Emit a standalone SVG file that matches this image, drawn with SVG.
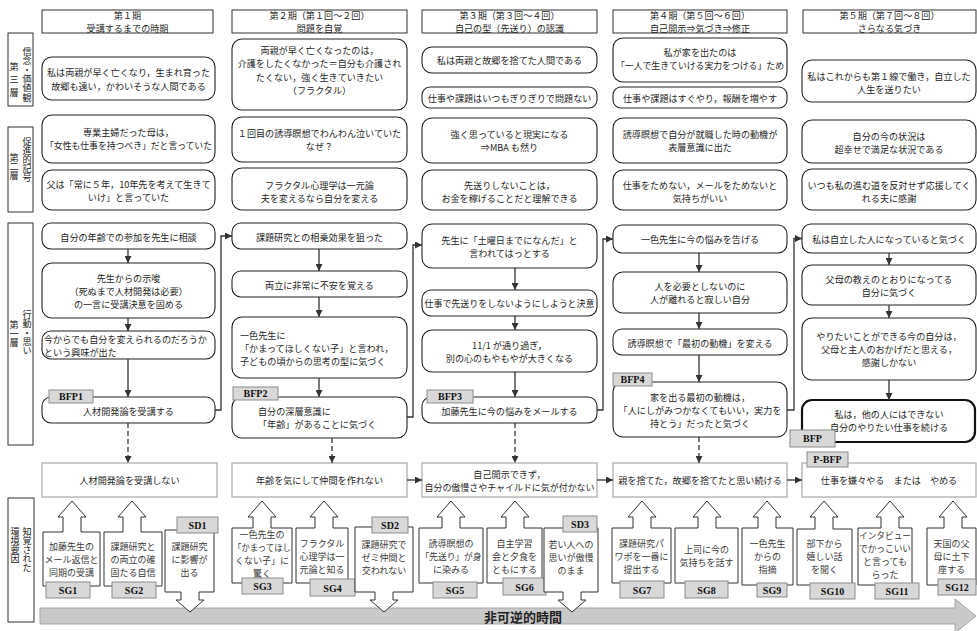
<svg xmlns="http://www.w3.org/2000/svg" width="977" height="631" viewBox="0 0 977 631">
<defs>
<style>
.b{fill:#fff;stroke:#222;stroke-width:1.1}
.bt{fill:#fff;stroke:#111;stroke-width:2.2}
.h{fill:#fff;stroke:#333;stroke-width:1}
.r{fill:#fff;stroke:#a8a8a8;stroke-width:1.2}
.g{fill:#d8d8d8;stroke:#8c8c8c;stroke-width:1}
.c{fill:#fff;stroke:#333;stroke-width:1}
.t{font-family:"Noto Sans CJK JP","Noto Sans",sans-serif;font-size:9.1px;fill:#262626;text-anchor:middle;dominant-baseline:central}
.l{text-anchor:start}
.s{font-size:9px;fill:#3a3a3a}
.v{font-family:"Noto Sans CJK JP",sans-serif;font-size:9.1px;fill:#222;writing-mode:vertical-rl}
.k{font-family:"Liberation Serif",serif;font-weight:bold;font-size:10px;fill:#111;text-anchor:middle;dominant-baseline:central}
.ln{fill:none;stroke:#333;stroke-width:1.3;marker-end:url(#ah)}
.d{stroke-dasharray:5 3}
.bar{fill:#c9c9c9;stroke:#a5a5a5;stroke-width:1}
.bartxt{font-family:"Noto Sans CJK JP",sans-serif;font-weight:bold;font-size:13px;fill:#222;text-anchor:middle;dominant-baseline:central}
</style>
<marker id="ah" viewBox="0 0 10 10" refX="10" refY="5" markerWidth="7" markerHeight="7" markerUnits="userSpaceOnUse" orient="auto"><path d="M0,0L10,5L0,10z" fill="#333"/></marker>
</defs>
<rect width="977" height="631" fill="#fff"/>

<!-- layer labels -->
<g id="layer3"><rect class="h" x="8" y="33" width="25" height="73"/><text class="v" x="27" y="47">信念・価値観</text><text class="v" x="14" y="62" letter-spacing="4">第三層</text></g>
<g id="layer2"><rect class="h" x="8" y="127" width="25" height="85"/><text class="v" x="27" y="137">促進的記号</text><text class="v" x="14" y="153">第二層</text></g>
<g id="layer1"><rect class="h" x="8" y="223" width="25" height="222"/><text class="v" x="27" y="310">行動・思い</text><text class="v" x="14" y="320">第一層</text></g>
<g id="layerenv"><rect class="h" x="8" y="498" width="26" height="124"/><text class="v" x="27" y="527">知覚された</text><text class="v" x="15" y="527">環境要因</text></g>

<!-- headers -->
<g id="p1"><rect class="h" x="42" y="10" width="171" height="23"/><text class="t"><tspan x="127.5" y="15.2">第１期</tspan><tspan x="127.5" y="28.4">受講するまでの時期</tspan></text></g>
<g id="p2"><rect class="h" x="232" y="10" width="175" height="23"/><text class="t"><tspan x="319.5" y="15.2">第２期（第１回～２回）</tspan><tspan x="319.5" y="28.4">問題を自覚</tspan></text></g>
<g id="p3"><rect class="h" x="422" y="10" width="175" height="23"/><text class="t"><tspan x="509.5" y="15.2">第３期（第３回～４回）</tspan><tspan x="509.5" y="28.4">自己の型（先送り）の認識</tspan></text></g>
<g id="p4"><rect class="h" x="613" y="10" width="174" height="23"/><text class="t"><tspan x="700" y="15.2">第４期（第５回～６回）</tspan><tspan x="700" y="28.4">自己開示⇒気づき⇒修正</tspan></text></g>
<g id="p5"><rect class="h" x="803" y="10" width="173" height="23"/><text class="t"><tspan x="889.5" y="15.2">第５期（第７回～８回）</tspan><tspan x="889.5" y="28.4">さらなる気づき</tspan></text></g>

<!-- top layers -->
<g id="c1a"><rect class="b" x="42" y="57" width="173" height="43" rx="10"/><text class="t"><tspan x="128.5" y="72.3">私は両親が早く亡くなり，生まれ育った</tspan><tspan x="128.5" y="85.6">故郷も遠い，かわいそうな人間である</tspan></text></g>
<g id="c1b"><rect class="b" x="42" y="115" width="173" height="48" rx="10"/><text class="t"><tspan x="128.5" y="132">専業主婦だった母は，</tspan><tspan x="128.5" y="145.3" textLength="167" lengthAdjust="spacingAndGlyphs">「女性も仕事を持つべき」だと言っていた</tspan></text></g>
<g id="c1c"><rect class="b" x="42" y="170" width="173" height="40" rx="10"/><text class="t"><tspan x="128.5" y="184">父は「常に５年，10年先を考えて生きて</tspan><tspan x="128.5" y="197.3">いけ」と言っていた</tspan></text></g>

<g id="c2a"><rect class="b" x="232" y="39" width="175" height="71" rx="10"/><text class="t"><tspan x="319.5" y="50">両親が早く亡くなったのは，</tspan><tspan x="319.5" y="63.3">介護をしたくなかった＝自分も介護され</tspan><tspan x="319.5" y="76.6">たくない，強く生きていきたい</tspan><tspan x="319.5" y="89.9">（フラクタル）</tspan></text></g>
<g id="c2b"><rect class="b" x="232" y="117" width="175" height="45" rx="10"/><text class="t"><tspan x="319.5" y="133">１回目の誘導瞑想でわんわん泣いていた</tspan><tspan x="319.5" y="146.3">なぜ？</tspan></text></g>
<g id="c2c"><rect class="b" x="232" y="168" width="175" height="42" rx="10"/><text class="t"><tspan x="319.5" y="184.5">フラクタル心理学は一元論</tspan><tspan x="319.5" y="197.8">夫を変えるなら自分を変える</tspan></text></g>

<g id="c3a"><rect class="b" x="422" y="47" width="175" height="26" rx="10"/><text class="t" x="509.5" y="60">私は両親と故郷を捨てた人間である</text></g>
<g id="c3b"><rect class="b" x="422" y="87" width="175" height="21" rx="8"/><text class="t" x="509.5" y="97.5">仕事や課題はいつもぎりぎりで問題ない</text></g>
<g id="c3c"><rect class="b" x="422" y="118" width="175" height="45" rx="10"/><text class="t"><tspan x="509.5" y="133.5">強く思っていると現実になる</tspan><tspan x="509.5" y="146.8">⇒MBA も然り</tspan></text></g>
<g id="c3d"><rect class="b" x="422" y="170" width="175" height="40" rx="10"/><text class="t"><tspan x="509.5" y="184.5">先送りしないことは，</tspan><tspan x="509.5" y="197.8">お金を稼げることだと理解できる</tspan></text></g>

<g id="c4a"><rect class="b" x="613" y="38" width="174" height="44" rx="10"/><text class="t"><tspan x="700" y="52">私が家を出たのは</tspan><tspan x="700" y="65.3" textLength="168" lengthAdjust="spacingAndGlyphs">「一人で生きていける実力をつける」ため</tspan></text></g>
<g id="c4b"><rect class="b" x="613" y="87" width="174" height="21" rx="8"/><text class="t" x="700" y="97.5">仕事や課題はすぐやり，報酬を増やす</text></g>
<g id="c4c"><rect class="b" x="613" y="118" width="174" height="45" rx="10"/><text class="t"><tspan x="700" y="133.5">誘導瞑想で自分が就職した時の動機が</tspan><tspan x="700" y="146.8">表層意識に出た</tspan></text></g>
<g id="c4d"><rect class="b" x="613" y="170" width="174" height="40" rx="10"/><text class="t"><tspan x="700" y="185">仕事をためない，メールをためないと</tspan><tspan x="700" y="198.3">気持ちがいい</tspan></text></g>

<g id="c5a"><rect class="b" x="802" y="60" width="174" height="42" rx="10"/><text class="t"><tspan x="889" y="75.5">私はこれからも第１線で働き，自立した</tspan><tspan x="889" y="88.8">人生を送りたい</tspan></text></g>
<g id="c5b"><rect class="b" x="802" y="120" width="174" height="43" rx="10"/><text class="t"><tspan x="889" y="135.5">自分の今の状況は</tspan><tspan x="889" y="148.8">超幸せで満足な状況である</tspan></text></g>
<g id="c5c"><rect class="b" x="802" y="169" width="174" height="41" rx="10"/><text class="t"><tspan x="889" y="184.5">いつも私の進む道を反対せず応援してく</tspan><tspan x="889" y="197.8">れる夫に感謝</tspan></text></g>

<!-- behaviour layer -->
<g id="b1a"><rect class="b" x="42" y="223" width="173" height="26" rx="9"/><text class="t" x="128.5" y="236.5">自分の年齢での参加を先生に相談</text></g>
<g id="b1b"><rect class="b" x="42" y="263" width="173" height="55" rx="10"/><text class="t"><tspan x="128.5" y="277.5">先生からの示唆</tspan><tspan x="128.5" y="290.8">（死ぬまで人材開発は必要）</tspan><tspan x="128.5" y="304.1">の一言に受講決意を固める</tspan></text></g>
<g id="b1c"><rect class="b" x="42" y="331" width="173" height="28" rx="9"/><text class="t l"><tspan x="44" y="338.5">今からでも自分を変えられるのだろうか</tspan><tspan x="44" y="351.8">という興味が出た</tspan></text></g>
<g id="b1d"><rect class="b" x="42" y="397" width="173" height="26" rx="9"/><text class="t" x="128.5" y="410.5">人材開発論を受講する</text></g>

<g id="b2a"><rect class="b" x="232" y="223" width="175" height="26" rx="9"/><text class="t" x="319.5" y="236.5">課題研究との相乗効果を狙った</text></g>
<g id="b2b"><rect class="b" x="232" y="271" width="175" height="26" rx="9"/><text class="t" x="319.5" y="284.5">両立に非常に不安を覚える</text></g>
<g id="b2c"><rect class="b" x="232" y="317" width="175" height="61" rx="10"/><text class="t l"><tspan x="240" y="334.5">一色先生に</tspan><tspan x="240" y="347.8">「かまってほしくない子」と言われ，</tspan><tspan x="240" y="361.1">子どもの頃からの思考の型に気づく</tspan></text></g>
<g id="b2d"><rect class="b" x="232" y="397" width="175" height="41" rx="10"/><text class="t l"><tspan x="258" y="411">自分の深層意識に</tspan><tspan x="258" y="424.3">「年齢」があることに気づく</tspan></text></g>

<g id="b3a"><rect class="b" x="422" y="224" width="175" height="44" rx="10"/><text class="t"><tspan x="509.5" y="239.5">先生に「土曜日までになんだ」と</tspan><tspan x="509.5" y="252.8">言われてはっとする</tspan></text></g>
<g id="b3b"><rect class="b" x="422" y="290" width="175" height="26" rx="9"/><text class="t" x="509.5" y="303" textLength="170" lengthAdjust="spacingAndGlyphs">仕事で先送りをしないようにしようと決意</text></g>
<g id="b3c"><rect class="b" x="422" y="330" width="175" height="42" rx="10"/><text class="t"><tspan x="509.5" y="344.5">11/1 が通り過ぎ，</tspan><tspan x="509.5" y="357.8">別の心のもやもやが大きくなる</tspan></text></g>
<g id="b3d"><rect class="b" x="422" y="397" width="175" height="26" rx="9"/><text class="t" x="509.5" y="410.5">加藤先生に今の悩みをメールする</text></g>

<g id="b4a"><rect class="b" x="613" y="225" width="174" height="28" rx="9"/><text class="t" x="700" y="239">一色先生に今の悩みを告げる</text></g>
<g id="b4b"><rect class="b" x="613" y="272" width="174" height="41" rx="10"/><text class="t"><tspan x="700" y="286">人を必要としないのに</tspan><tspan x="700" y="299.3">人が離れると寂しい自分</tspan></text></g>
<g id="b4c"><rect class="b" x="613" y="329" width="174" height="26" rx="9"/><text class="t" x="700" y="342.5">誘導瞑想で「最初の動機」を変える</text></g>
<g id="b4d"><rect class="b" x="613" y="382" width="174" height="55" rx="10"/><text class="t"><tspan x="700" y="396.5">家を出る最初の動機は，</tspan><tspan x="700" y="409.8">「人にしがみつかなくてもいい，実力を</tspan><tspan x="700" y="423.1">持とう」だったと気づく</tspan></text></g>

<g id="b5a"><rect class="b" x="802" y="224" width="174" height="29" rx="9"/><text class="t" x="889" y="238.5">私は自立した人になっていると気づく</text></g>
<g id="b5b"><rect class="b" x="802" y="265" width="174" height="40" rx="10"/><text class="t"><tspan x="889" y="278.5">父母の教えのとおりになってる</tspan><tspan x="889" y="291.8">自分に気づく</tspan></text></g>
<g id="b5c"><rect class="b" x="802" y="318" width="174" height="62" rx="10"/><text class="t"><tspan x="889" y="335.7">やりたいことができる今の自分は，</tspan><tspan x="889" y="349">父母と主人のおかげだと思える，</tspan><tspan x="889" y="362.3">感謝しかない</tspan></text></g>
<g id="b5d"><rect class="bt" x="802" y="400" width="173" height="42" rx="10"/><text class="t"><tspan x="889" y="414">私は，他の人にはできない</tspan><tspan x="889" y="427.3">自分のやりたい仕事を続ける</tspan></text></g>

<!-- result row -->
<g id="r1"><rect class="r" x="42" y="463" width="175" height="34"/><text class="t" x="129.5" y="480">人材開発論を受講しない</text></g>
<g id="r2"><rect class="r" x="232" y="463" width="175" height="34"/><text class="t" x="319.5" y="480">年齢を気にして仲間を作れない</text></g>
<g id="r3"><rect class="r" x="422" y="463" width="175" height="34"/><text class="t"><tspan x="509.5" y="473.5">自己開示できず，</tspan><tspan x="509.5" y="486.8" textLength="170" lengthAdjust="spacingAndGlyphs">自分の傲慢さやチャイルドに気が付かない</tspan></text></g>
<g id="r4"><rect class="r" x="613" y="463" width="174" height="34"/><text class="t" x="700" y="480">親を捨てた，故郷を捨てたと思い続ける</text></g>
<g id="r5"><rect class="r" x="802" y="463" width="174" height="34"/><text class="t" x="889" y="480">仕事を嫌々やる　または　やめる</text></g>

<!-- BFP tags -->
<g id="tagBFP1"><rect class="g" x="49" y="390" width="44" height="13"/><text class="k" x="71" y="396.8">BFP1</text></g>
<g id="tagBFP2"><rect class="g" x="233" y="387" width="45" height="13"/><text class="k" x="255.5" y="393.8">BFP2</text></g>
<g id="tagBFP3"><rect class="g" x="427" y="390" width="46" height="13"/><text class="k" x="450" y="396.8">BFP3</text></g>
<g id="tagBFP4"><rect class="g" x="613" y="373" width="39" height="13"/><text class="k" x="632.5" y="379.8">BFP4</text></g>
<g id="tagBFP"><rect class="g" x="790" y="430" width="45" height="17"/><text class="k" x="812.5" y="438.8">BFP</text></g>
<g id="tagPBFP"><rect class="g" x="807" y="452" width="41" height="15"/><text class="k" x="827.5" y="459.8">P-BFP</text></g>

<!-- connectors -->
<g id="connectors">
<path class="ln" d="M128,249V263"/>
<path class="ln" d="M128,318V331"/>
<path class="ln" d="M128,359V397"/>
<path class="ln" d="M319,249V271"/>
<path class="ln" d="M319,297V317"/>
<path class="ln" d="M319,378V397"/>
<path class="ln" d="M515,268V290"/>
<path class="ln" d="M515,316V330"/>
<path class="ln" d="M515,372V397"/>
<path class="ln" d="M699,253V272"/>
<path class="ln" d="M699,313V329"/>
<path class="ln" d="M699,355V382"/>
<path class="ln" d="M889,253V265"/>
<path class="ln" d="M889,305V318"/>
<path class="ln" d="M889,380V400"/>
<path class="ln" d="M215,410H221V236H232"/>
<path class="ln" d="M407,417H413V245H422"/>
<path class="ln" d="M597,410H603V239H613"/>
<path class="ln" d="M787,410H794V238.5H802"/>
<path class="ln d" d="M128,423V463"/>
<path class="ln d" d="M332,438V463"/>
<path class="ln d" d="M515,423V463"/>
<path class="ln d" d="M699,437V463"/>
<path class="ln" d="M407,480H422"/>
<path class="ln" d="M597,480H613"/>
<path class="ln" d="M787,480H802"/>
</g>

<!-- time arrow -->
<g id="time"><polygon class="bar" points="40,608 955,608 955,599 976,616 955,633 955,624 40,624"/><text class="bartxt" x="523" y="616.5">非可逆的時間</text></g>

<!-- environment callouts -->
<g id="SG1"><polygon class="c" points="43,586 43,532 63,532 63,517 58,517 72,501 86,517 81,517 81,532 100,532 100,586"/><text class="t s"><tspan x="71.5" y="546">加藤先生の</tspan><tspan x="71.5" y="559.1">メール返信と</tspan><tspan x="71.5" y="572.2">同期の受講</tspan></text><rect class="g" x="46" y="582" width="44" height="16"/><text class="k" x="68" y="590.5">SG1</text></g>
<g id="SG2"><polygon class="c" points="104,586 104,532 123,532 123,517 118,517 132,501 146,517 141,517 141,532 162,532 162,586"/><text class="t s"><tspan x="133" y="546">課題研究と</tspan><tspan x="133" y="559.1">の両立の確</tspan><tspan x="133" y="572.2">固たる自信</tspan></text><rect class="g" x="112" y="582" width="44" height="16"/><text class="k" x="134" y="590.5">SG2</text></g>
<g id="SD1"><polygon class="c" points="165,530 214,530 214,592 199,592 199,600 204,600 190,612 176,600 181,600 181,592 165,592"/><text class="t s"><tspan x="189.5" y="546">課題研究</tspan><tspan x="189.5" y="559.1">に影響が</tspan><tspan x="189.5" y="572.2">出る</tspan></text><rect class="g" x="177" y="517" width="41" height="16"/><text class="k" x="197.5" y="525.5">SD1</text></g>
<g id="SG3"><polygon class="c" points="232,583 232,528 253,528 253,517 248,517 262,501 276,517 271,517 271,528 292,528 292,583"/><text class="t s"><tspan x="262" y="534">一色先生の</tspan><tspan x="262" y="547.1" textLength="58" lengthAdjust="spacingAndGlyphs">「かまってほし</tspan><tspan x="262" y="560.2">くない子」に</tspan><tspan x="262" y="573.3">驚く</tspan></text><rect class="g" x="242" y="578" width="41" height="16"/><text class="k" x="262.5" y="586.5">SG3</text></g>
<g id="SG4"><polygon class="c" points="296,583 296,528 315,528 315,517 310,517 324,501 338,517 333,517 333,528 348,528 348,583"/><text class="t s"><tspan x="322" y="542.5">フラクタル</tspan><tspan x="322" y="555.6">心理学は一</tspan><tspan x="322" y="568.7">元論と知る</tspan></text><rect class="g" x="310" y="579" width="45" height="17"/><text class="k" x="332.5" y="588">SG4</text></g>
<g id="SD2"><polygon class="c" points="355,527 413,527 413,592 393,592 393,600 398,600 384,612 370,600 375,600 375,592 355,592"/><text class="t s"><tspan x="384" y="544">課題研究で</tspan><tspan x="384" y="557.1">ゼミ仲間と</tspan><tspan x="384" y="570.2">交われない</tspan></text><rect class="g" x="372" y="517" width="36" height="16"/><text class="k" x="390" y="525.5">SD2</text></g>
<g id="SG5"><polygon class="c" points="419,583 419,528 442,528 442,517 437,517 451,501 465,517 460,517 460,528 483,528 483,583"/><text class="t s"><tspan x="451" y="542.5">誘導瞑想の</tspan><tspan x="451" y="555.6" textLength="61" lengthAdjust="spacingAndGlyphs">「先送り」が身</tspan><tspan x="451" y="568.7">に染みる</tspan></text><rect class="g" x="433" y="582" width="44" height="16"/><text class="k" x="455" y="590.5">SG5</text></g>
<g id="SG6"><polygon class="c" points="487,583 487,528 506,528 506,517 501,517 515,501 529,517 524,517 524,528 542,528 542,583"/><text class="t s"><tspan x="514.5" y="542.5">自主学習</tspan><tspan x="514.5" y="555.6">会と夕食を</tspan><tspan x="514.5" y="568.7">ともにする</tspan></text><rect class="g" x="503" y="578" width="43" height="17"/><text class="k" x="524.5" y="587">SG6</text></g>
<g id="SD3"><polygon class="c" points="544,528 598,528 598,592 581,592 581,600 586,600 572,612 558,600 563,600 563,592 544,592"/><text class="t s"><tspan x="571" y="544">若い人への</tspan><tspan x="571" y="557.1">思いが傲慢</tspan><tspan x="571" y="570.2">のまま</tspan></text><rect class="g" x="563" y="516" width="34" height="16"/><text class="k" x="580" y="524.5">SD3</text></g>
<g id="SG7"><polygon class="c" points="612,583 612,528 633,528 633,517 628,517 642,501 656,517 651,517 651,528 671,528 671,583"/><text class="t s"><tspan x="641.5" y="542.5">課題研究パ</tspan><tspan x="641.5" y="555.6">ワポを一番に</tspan><tspan x="641.5" y="568.7">提出する</tspan></text><rect class="g" x="620" y="581" width="44" height="17"/><text class="k" x="642" y="590">SG7</text></g>
<g id="SG8"><polygon class="c" points="675,583 675,528 698,528 698,517 693,517 707,501 721,517 716,517 716,528 738,528 738,583"/><text class="t s"><tspan x="706.5" y="549">上司に今の</tspan><tspan x="706.5" y="562.1">気持ちを話す</tspan></text><rect class="g" x="685" y="581" width="43" height="17"/><text class="k" x="706.5" y="590">SG8</text></g>
<g id="SG9"><polygon class="c" points="742,585 742,528 758,528 758,517 753,517 767,501 781,517 776,517 776,528 793,528 793,585"/><text class="t s"><tspan x="767.5" y="543">一色先生</tspan><tspan x="767.5" y="556.1">からの</tspan><tspan x="767.5" y="569.2">指摘</tspan></text><rect class="g" x="757" y="583" width="30" height="14"/><text class="k" x="772" y="590.5">SG9</text></g>
<g id="SG10"><polygon class="c" points="797,585 797,529 815,529 815,517 810,517 824,501 838,517 833,517 833,529 852,529 852,585"/><text class="t s"><tspan x="824.5" y="543">部下から</tspan><tspan x="824.5" y="556.1">嬉しい話</tspan><tspan x="824.5" y="569.2">を聞く</tspan></text><rect class="g" x="810" y="583" width="45" height="16"/><text class="k" x="832.5" y="591.5">SG10</text></g>
<g id="SG11"><polygon class="c" points="858,585 858,528 881,528 881,517 876,517 890,501 904,517 899,517 899,528 912,528 912,585"/><text class="t s"><tspan x="885" y="535" textLength="52" lengthAdjust="spacingAndGlyphs">インタビュー</tspan><tspan x="885" y="548.1" textLength="52" lengthAdjust="spacingAndGlyphs">でかっこいい</tspan><tspan x="885" y="561.2">と言っても</tspan><tspan x="885" y="574.3">らった</tspan></text><rect class="g" x="875" y="583" width="44" height="16"/><text class="k" x="897" y="591.5">SG11</text></g>
<g id="SG12"><polygon class="c" points="927,585 927,528 944,528 944,517 939,517 953,501 967,517 962,517 962,528 976,528 976,585"/><text class="t s"><tspan x="951.5" y="543">天国の父</tspan><tspan x="951.5" y="556.1">母に土下</tspan><tspan x="951.5" y="569.2">座する</tspan></text><rect class="g" x="938" y="579" width="38" height="16"/><text class="k" x="957" y="587.5">SG12</text></g>
</svg>
